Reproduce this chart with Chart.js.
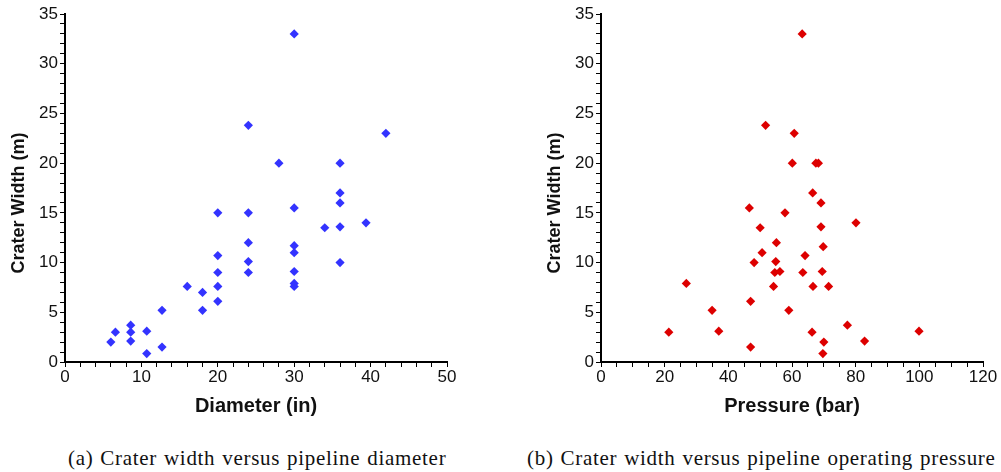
<!DOCTYPE html>
<html>
<head>
<meta charset="utf-8">
<script src="https://cdn.jsdelivr.net/npm/chart.js@4.4.1/dist/chart.umd.min.js"></script>
<style>
  html, body { margin: 0; padding: 0; background: #fff; width: 1001px; height: 472px; overflow: hidden; }
  .wrap { position: absolute; top: 0; }
  .cap { position: absolute; top: 446px; font-family: "Liberation Serif", serif; font-size: 21px; letter-spacing: 0.7px; word-spacing: 1px; color: #111; white-space: nowrap; }
</style>
</head>
<body>
<div class="wrap" style="left:0px"><canvas id="chartA" width="470" height="425"></canvas></div>
<div class="wrap" style="left:536px"><canvas id="chartB" width="465" height="425"></canvas></div>
<div class="cap" style="left:68px">(a) Crater width versus pipeline diameter</div>
<div class="cap" style="left:527px">(b) Crater width versus pipeline operating pressure</div>
<script>
// crater width vs diameter (left panel)
const diameterIn = [6, 6.6, 8.6, 8.6, 8.6, 10.7, 10.7, 12.7, 12.7, 16, 18, 18,
  20, 20, 20, 20, 20, 24, 24, 24, 24, 24, 28, 30, 30, 30, 30, 30, 30, 30,
  34, 36, 36, 36, 36, 36, 39.4, 42];
const widthByDiameter = [2, 3, 3.7, 3, 2.1, 0.85, 3.1, 1.5, 5.2, 7.6, 7, 5.2,
  15, 10.7, 9, 7.6, 6.1, 23.8, 15, 12, 10.1, 9, 20, 33, 15.5, 11.7, 11, 9.1, 7.9, 7.6,
  13.5, 20, 17, 16, 13.6, 10, 14, 23];

// crater width vs operating pressure (right panel)
const pressureBar = [21.3, 26.8, 34.9, 37, 46.6, 47, 47, 48.1, 50, 50.6, 55.1, 54.9,
  54.6, 56.2, 54.2, 57.8, 59, 63.4, 64.1, 66.5, 66.6, 66.3, 69.1, 69.1, 69.8, 69.5,
  70, 69.7, 71.5, 77.4, 80.1, 82.8, 99.9, 63.2, 51.7, 60.7, 60.1, 67.5, 68.3];
const widthByPressure = [3, 7.9, 5.2, 3.1, 15.5, 6.1, 1.5, 10, 13.5, 11, 12, 10.1,
  9, 9.1, 7.6, 15, 5.2, 9, 10.7, 17, 7.6, 3, 16, 13.6, 11.6, 9.1,
  2, 0.85, 7.6, 3.7, 14, 2.1, 3.1, 33, 23.8, 23, 20, 20, 20];

// axis ticks
const yMajor = [0, 5, 10, 15, 20, 25, 30, 35];
const diameterMajor = [0, 10, 20, 30, 40, 50];
const pressureMajor = [0, 20, 40, 60, 80, 100, 120];
const yMinorStep = 1, diameterMinorStep = 2, pressureMinorStep = 5;

Chart.defaults.color = '#111';
Chart.defaults.font.family = '"Liberation Sans", Arial, sans-serif';

function steps(max, step) {
  const out = [];
  for (let v = 0; v <= max + 1e-9; v += step) out.push({ value: Math.round(v * 100) / 100 });
  return out;
}

function axis(title, max, step, major, isY) {
  return {
    type: 'linear',
    min: 0,
    max: max,
    border: { display: true, color: '#000', width: 2 },
    grid: { drawOnChartArea: false, drawTicks: true, tickLength: 5, tickColor: '#000', tickWidth: 1 },
    afterBuildTicks: s => { s.ticks = steps(max, step); },
    afterFit: s => { if (isY) s.width = 65; else s.height = 63; },
    ticks: {
      autoSkip: false,
      maxRotation: 0,
      padding: isY ? 2 : 0,
      font: { size: 17 },
      color: '#111',
      callback: v => major.includes(v) ? String(v) : ''
    },
    title: {
      display: true,
      // trailing spaces nudge the rotated title down a bit
      text: isY ? title + '      ' : title,
      color: '#111',
      font: { size: isY ? 18 : 20, weight: 'bold' },
      padding: isY ? { top: 8, bottom: 0 } : { top: 0, bottom: 7 }
    }
  };
}

function makeChart(id, xs, ys, color, xTitle, xMax, xStep, xMajor, padRight) {
  const pts = xs.map((x, i) => ({ x: x, y: ys[i] }));
  return new Chart(document.getElementById(id), {
    type: 'scatter',
    data: {
      datasets: [{
        data: pts,
        pointStyle: 'rectRot',
        pointRadius: 4.6,
        backgroundColor: color,
        borderColor: color,
        borderWidth: 0
      }]
    },
    options: {
      responsive: false,
      animation: false,
      layout: { padding: { top: 14, right: padRight, bottom: 0, left: 0 } },
      plugins: { legend: { display: false }, tooltip: { enabled: false } },
      scales: {
        x: axis(xTitle, xMax, xStep, xMajor, false),
        y: axis('Crater Width (m)', 35, yMinorStep, yMajor, true)
      }
    }
  });
}

makeChart('chartA', diameterIn, widthByDiameter, '#3333ff', 'Diameter (in)', 50, diameterMinorStep, diameterMajor, 23);
makeChart('chartB', pressureBar, widthByPressure, '#dd0000', 'Pressure (bar)', 120, pressureMinorStep, pressureMajor, 18);
</script>
</body>
</html>
